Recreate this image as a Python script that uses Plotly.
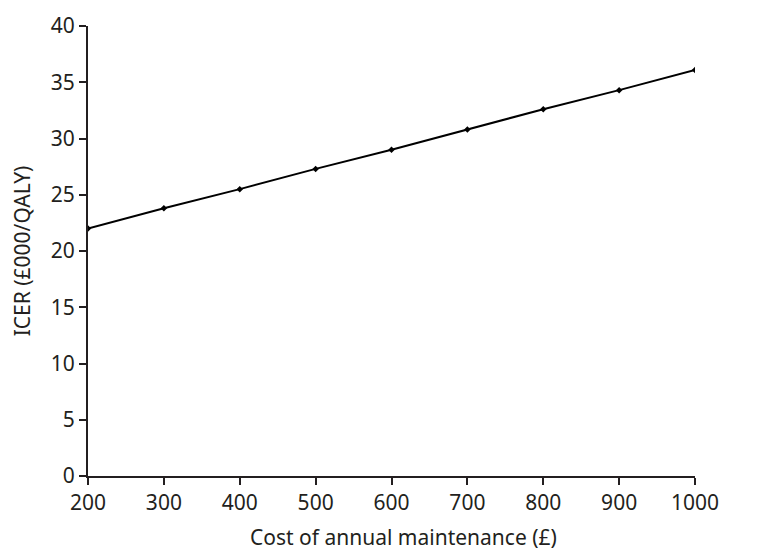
import plotly.graph_objects as go

cost = [200, 300, 400, 500, 600, 700, 800, 900, 1000]
icer = [22.0, 23.8, 25.5, 27.3, 29.0, 30.8, 32.6, 34.3, 36.1]
x_ticks = [200, 300, 400, 500, 600, 700, 800, 900, 1000]
y_ticks = [0, 5, 10, 15, 20, 25, 30, 35, 40]
x_title = "Cost of annual maintenance (£)"
y_title = "ICER (£000/QALY)"

ink = "#231f20"
fam = "Noto Sans"
fs = 21
tfont = dict(family=fam, size=fs, color=ink)

fig = go.Figure(go.Scatter(
    x=cost, y=icer, mode="lines+markers",
    line=dict(color="black", width=2),
    marker=dict(symbol="diamond", size=5, color="black"),
    showlegend=False,
))

fig.update_layout(
    width=767, height=542,
    margin=dict(l=80, r=80, t=18, b=74),
    paper_bgcolor="white", plot_bgcolor="white",
    font=tfont,
)
fig.update_xaxes(
    range=[200, 1000], tickvals=x_ticks, ticktext=[str(v) for v in x_ticks],
    showgrid=False, zeroline=False, showline=True, linecolor=ink, linewidth=2,
    ticks="outside", ticklen=7, tickwidth=2, tickcolor=ink,
    tickfont=tfont, automargin=False,
)
fig.update_yaxes(
    range=[0, 40], tickvals=y_ticks, ticktext=[str(v) for v in y_ticks],
    showgrid=False, zeroline=False, showline=True, linecolor=ink, linewidth=2,
    ticks="outside", ticklen=7, tickwidth=2, tickcolor=ink,
    tickfont=tfont, automargin=False,
    title=dict(text=y_title, font=tfont, standoff=14),
)
fig.add_annotation(
    text=x_title, font=tfont, showarrow=False,
    xref="paper", yref="paper", x=0.52, y=0, yshift=-61,
    xanchor="center", yanchor="middle",
)

fig.write_html("out.html")
